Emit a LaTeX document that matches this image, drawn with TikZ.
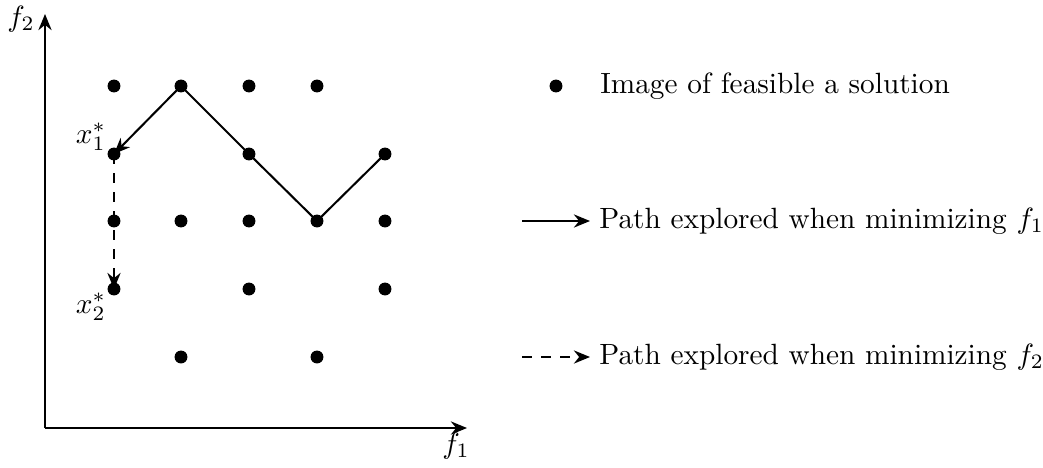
\documentclass[tikz,border=0pt]{standalone}
\usetikzlibrary{arrows.meta}
\begin{document}
\begin{tikzpicture}[x=0.3413pt,y=-0.3413pt,
  ln/.style={line width=0.7pt},
  arr/.style={ln,-{Stealth[length=5.5pt,width=4.5pt]}},
  dsh/.style={arr,dash pattern=on 3.5pt off 3pt},
  dot/.style={circle,fill=black,inner sep=0pt,minimum size=4.4pt},
  lbl/.style={inner sep=0pt}]
\useasboundingbox (0,0) rectangle (1043,467);
% axes
\coordinate (O) at (45,428);
\coordinate (Ytip) at (45,14);
\coordinate (Xtip) at (467,428);
\draw[arr] (O) -- (Ytip);
\draw[arr] (O) -- (Xtip);
\node[lbl] (f2) at (21,19) {$f_2$};
\node[lbl] (f1) at (456,446) {$f_1$};
% grid coordinates: row r (0..4), column c (0..4)
\foreach \r/\y in {0/86,1/154,2/221,3/289,4/357}{
  \foreach \c/\x in {0/114,1/181,2/249,3/317,4/385}{
    \coordinate (p\r\c) at (\x,\y);
  }
}
\foreach \p in {p00,p01,p02,p03,p10,p12,p14,p20,p21,p22,p23,p24,p30,p32,p34,p41,p43}{
  \node[dot] (d\p) at (\p) {};
}
% paths
\draw[arr] (p14) -- (p23) -- (p12) -- (p01) -- (p10);
\draw[dsh] (p10) -- (p30);
\node[lbl] (x1) at (91,137) {$x_1^*$};
\node[lbl] (x2) at (91,307) {$x_2^*$};
% legend
\node[dot] (ldot) at (556,86) {};
\node[anchor=west] (t1) at (590,86) {Image of feasible a solution};
\coordinate (la1) at (522,221);
\coordinate (lb1) at (590,221);
\draw[arr] (la1) -- (lb1);
\node[anchor=west] (t2) at (589,221) {Path explored when minimizing $f_1$};
\coordinate (la2) at (522,357);
\coordinate (lb2) at (590,357);
\draw[dsh] (la2) -- (lb2);
\node[anchor=west] (t3) at (589,357) {Path explored when minimizing $f_2$};
\end{tikzpicture}
\end{document}
